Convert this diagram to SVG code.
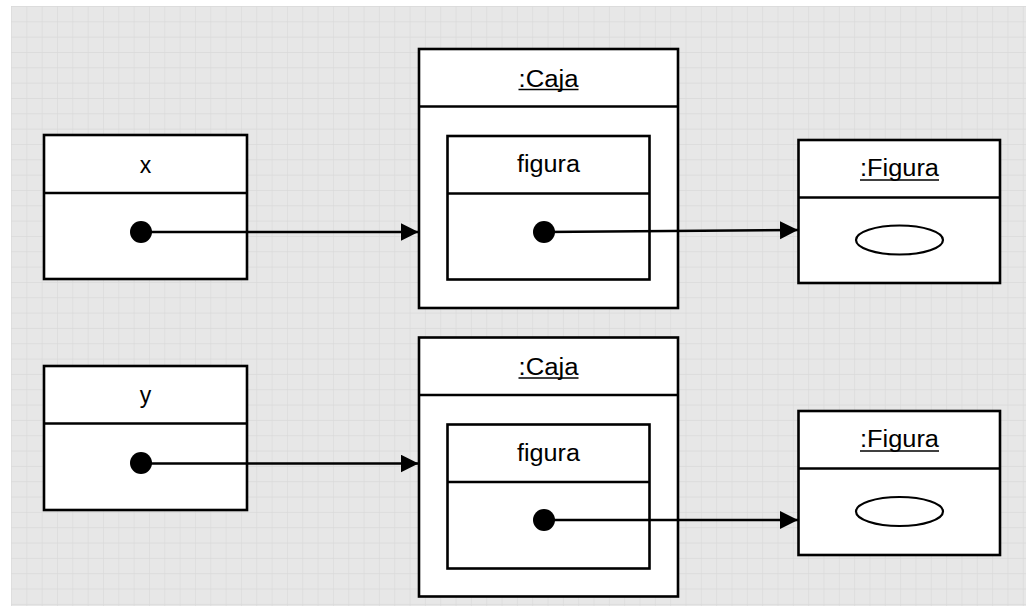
<svg xmlns="http://www.w3.org/2000/svg" width="1026" height="606" viewBox="0 0 1026 606">
  <style>
    .box { fill: #ffffff; stroke: #000000; stroke-width: 2.6; }
    .sep { stroke: #000000; stroke-width: 2.6; fill: none; }
    .lbl { font-family: "Liberation Sans", Arial, sans-serif; font-size: 23px; fill: #000000; text-anchor: middle; }
    .ul { stroke: #000000; stroke-width: 1.6; }
    .dot { fill: #000000; }
    .shape { fill: #ffffff; stroke: #000000; stroke-width: 2.2; }
    .link { stroke: #000000; stroke-width: 2.6; fill: none; marker-end: url(#head); }
  </style>
  <defs>
    <pattern id="grid" x="11" y="6" width="15.33" height="15.33" patternUnits="userSpaceOnUse">
      <rect width="15.33" height="15.33" fill="#e7e7e7"/>
      <path d="M0 0H15.33M0 0V15.33" stroke="#d9d9d9" stroke-width="1.2"/>
    </pattern>
    <marker id="head" markerWidth="19" markerHeight="19" refX="18" refY="9" orient="auto" markerUnits="userSpaceOnUse">
      <path d="M0 0L18 9L0 18Z" fill="#000000"/>
    </marker>
  </defs>

  <!-- background -->
  <rect width="1026" height="606" fill="#ffffff"/>
  <rect x="11" y="6" width="1015" height="600" fill="url(#grid)"/>

  <!-- reference variable x -->
  <g id="var-x">
    <rect class="box" x="44" y="135" width="203" height="144"/>
    <line class="sep" x1="44" y1="193" x2="247" y2="193"/>
    <text class="lbl" x="145.5" y="172.5">x</text>
    <circle class="dot" cx="141" cy="232" r="11"/>
  </g>

  <!-- first Caja object -->
  <g id="caja-1">
    <rect class="box" x="419" y="49" width="259" height="259"/>
    <line class="sep" x1="419" y1="106.5" x2="678" y2="106.5"/>
    <text class="lbl" x="548.5" y="86.5" textLength="60" lengthAdjust="spacingAndGlyphs">:Caja</text>
    <line class="ul" x1="518.5" y1="89.5" x2="578.5" y2="89.5"/>
    <g id="caja-1-figura">
      <rect class="box" x="447.5" y="136" width="202" height="143.5"/>
      <line class="sep" x1="447.5" y1="193.5" x2="649.5" y2="193.5"/>
      <text class="lbl" x="548.5" y="172" textLength="63" lengthAdjust="spacingAndGlyphs">figura</text>
      <circle class="dot" cx="544" cy="232" r="11"/>
    </g>
  </g>

  <!-- first Figura object -->
  <g id="figura-1">
    <rect class="box" x="798.5" y="140" width="201.5" height="143"/>
    <line class="sep" x1="798.5" y1="197.5" x2="1000" y2="197.5"/>
    <text class="lbl" x="899.5" y="176" textLength="79" lengthAdjust="spacingAndGlyphs">:Figura</text>
    <line class="ul" x1="860" y1="180" x2="939" y2="180"/>
    <ellipse class="shape" cx="899.5" cy="240" rx="43.5" ry="14.5"/>
  </g>

  <!-- reference variable y -->
  <g id="var-y">
    <rect class="box" x="44" y="366" width="203" height="144"/>
    <line class="sep" x1="44" y1="423.5" x2="247" y2="423.5"/>
    <text class="lbl" x="145.5" y="402.5">y</text>
    <circle class="dot" cx="141" cy="463" r="11"/>
  </g>

  <!-- second Caja object -->
  <g id="caja-2">
    <rect class="box" x="419" y="337.5" width="259" height="259"/>
    <line class="sep" x1="419" y1="395" x2="678" y2="395"/>
    <text class="lbl" x="548.5" y="374.5" textLength="60" lengthAdjust="spacingAndGlyphs">:Caja</text>
    <line class="ul" x1="518.5" y1="378" x2="578.5" y2="378"/>
    <g id="caja-2-figura">
      <rect class="box" x="447.5" y="424.5" width="202" height="144"/>
      <line class="sep" x1="447.5" y1="482" x2="649.5" y2="482"/>
      <text class="lbl" x="548.5" y="460.5" textLength="63" lengthAdjust="spacingAndGlyphs">figura</text>
      <circle class="dot" cx="544" cy="520" r="11"/>
    </g>
  </g>

  <!-- second Figura object -->
  <g id="figura-2">
    <rect class="box" x="798.5" y="411" width="201.5" height="144"/>
    <line class="sep" x1="798.5" y1="468.5" x2="1000" y2="468.5"/>
    <text class="lbl" x="899.5" y="447" textLength="79" lengthAdjust="spacingAndGlyphs">:Figura</text>
    <line class="ul" x1="860" y1="451" x2="939" y2="451"/>
    <ellipse class="shape" cx="899.5" cy="511.5" rx="43.5" ry="14.5"/>
  </g>

  <!-- references -->
  <g id="connectors">
    <line class="link" x1="141" y1="232" x2="418.5" y2="232"/>
    <line class="link" x1="544" y1="232" x2="798" y2="230"/>
    <line class="link" x1="141" y1="463.5" x2="418.5" y2="463.5"/>
    <line class="link" x1="544" y1="520" x2="798" y2="520"/>
  </g>
</svg>
